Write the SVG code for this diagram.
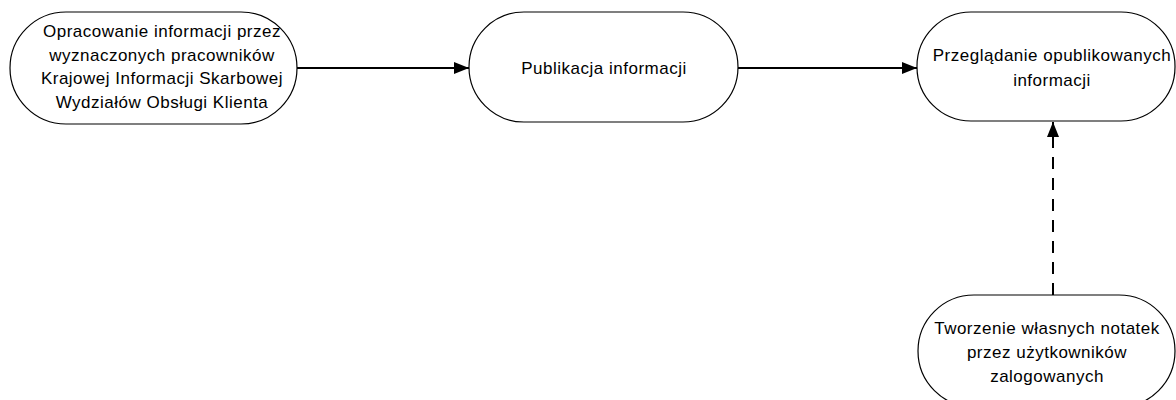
<svg xmlns="http://www.w3.org/2000/svg" width="1176" height="400" viewBox="0 0 1176 400">
  <defs>
    <marker id="arrow" viewBox="0 0 15 12" refX="15" refY="6" markerWidth="15" markerHeight="12" markerUnits="userSpaceOnUse" orient="auto">
      <path d="M0,0 L15,6 L0,12 Z" fill="#000"/>
    </marker>
    <style>
      .node { fill: #fff; stroke: #000; stroke-width: 1.2; }
      .label { font-family: "Liberation Sans", Arial, sans-serif; font-size: 17px; letter-spacing: 0.5px; fill: #000; text-anchor: middle; }
      .conn { fill: none; stroke: #000; stroke-width: 2; }
      .dashed { stroke-dasharray: 12 9; }
    </style>
  </defs>

  <rect width="1176" height="400" fill="#fff"/>

  <!-- connectors -->
  <g id="connectors">
    <line class="conn" x1="297" y1="68" x2="469" y2="68" marker-end="url(#arrow)"/>
    <line class="conn" x1="738" y1="68" x2="917" y2="68" marker-end="url(#arrow)"/>
    <line class="conn dashed" x1="1053" y1="295" x2="1053" y2="122" marker-end="url(#arrow)"/>
  </g>

  <!-- process steps -->
  <g id="node-opracowanie">
    <rect class="node" x="10" y="12" width="287" height="112" rx="56" ry="56"/>
    <text class="label" x="162" y="37">Opracowanie informacji przez</text>
    <text class="label" x="162" y="61">wyznaczonych pracowników</text>
    <text class="label" x="162" y="84">Krajowej Informacji Skarbowej</text>
    <text class="label" x="162" y="108">Wydziałów Obsługi Klienta</text>
  </g>

  <g id="node-publikacja">
    <rect class="node" x="469" y="12" width="269" height="110" rx="55" ry="55"/>
    <text class="label" x="604" y="74">Publikacja informacji</text>
  </g>

  <g id="node-przegladanie">
    <rect class="node" x="917" y="12" width="258" height="109" rx="54" ry="54"/>
    <text class="label" x="1052" y="61">Przeglądanie opublikowanych</text>
    <text class="label" x="1052" y="86">informacji</text>
  </g>

  <g id="node-notatki">
    <rect class="node" x="918" y="295" width="257" height="112" rx="56" ry="56"/>
    <text class="label" x="1047" y="334">Tworzenie własnych notatek</text>
    <text class="label" x="1047" y="358">przez użytkowników</text>
    <text class="label" x="1047" y="382">zalogowanych</text>
  </g>
</svg>
